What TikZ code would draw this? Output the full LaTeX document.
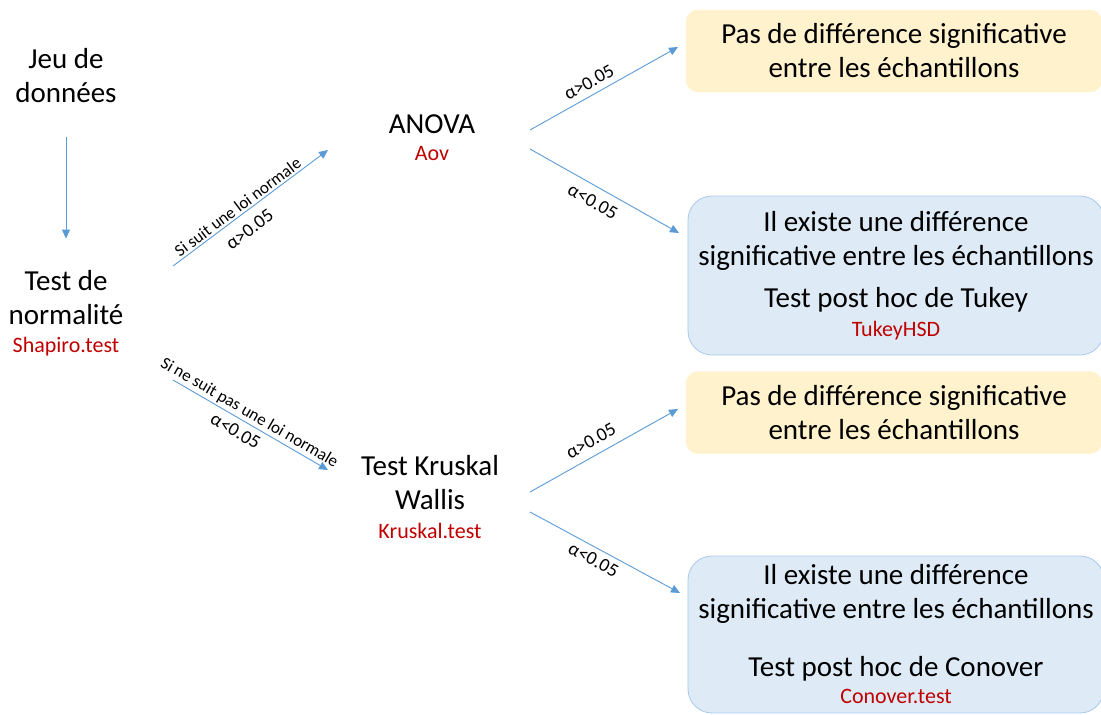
\documentclass[tikz,border=0pt]{standalone}
\usepackage{fontspec}
\setmainfont{Carlito}
\usetikzlibrary{arrows.meta}
\definecolor{arrblue}{HTML}{5B9BD5}
\definecolor{codered}{HTML}{C00000}
\definecolor{yfill}{HTML}{FFF2CC}
\definecolor{bfill}{HTML}{DEEBF7}
\definecolor{bdraw}{HTML}{A9C9EA}
\tikzset{
  bigtxt/.style={font=\fontsize{29}{34}\selectfont, align=center, inner sep=0pt},
  codetxt/.style={font=\fontsize{22}{26}\selectfont, text=codered, inner sep=0pt},
  arr/.style={draw=arrblue, line width=0.9pt, -{Triangle[length=9pt,width=8pt]}},
  lblsmall/.style={font=\fontsize{17}{20}\selectfont, sloped},
  lblalpha/.style={font=\fontsize{19}{22}\selectfont, sloped},
  ybox/.style={bigtxt, fill=yfill, draw=yfill, rounded corners=12pt, minimum width=416pt, minimum height=82pt},
  bbox/.style={bigtxt, fill=bfill, draw=bdraw, line width=0.8pt, rounded corners=24pt, minimum width=416pt},
}
\newcommand{\redcode}[1]{{\fontsize{22}{26}\selectfont\color{codered}#1}}
\begin{document}
\begin{tikzpicture}[x=1pt,y=-1pt]
\useasboundingbox (0,0) rectangle (1101,715);

% left column
\node[bigtxt] (jeu) at (66,76) {Jeu de\\données};
\node[bigtxt] (norm) at (66,298) {Test de\\normalité};
\node[codetxt] (shap) at (66,347) {Shapiro.test};

% middle
\node[bigtxt] (anova) at (432,124) {ANOVA};
\node[codetxt] (aov) at (432,154) {Aov};
\node[bigtxt] (kw) at (430,483) {Test Kruskal\\Wallis};
\node[codetxt] (ks) at (430,531) {Kruskal.test};

% result boxes
\node[ybox] (y1) at (894,51) {Pas de différence significative\\entre les échantillons};
\node[bbox, minimum height=159pt] (b1) at (896,275.5) {Il existe une différence\\significative entre les échantillons\\[8pt]Test post hoc de Tukey\\[-5pt]\redcode{TukeyHSD}};
\node[ybox] (y2) at (894,412.5) {Pas de différence significative\\entre les échantillons};
\node[bbox, minimum height=157pt] (b2) at (896,634.5) {Il existe une différence\\significative entre les échantillons\\[24pt]Test post hoc de Conover\\[-7pt]\redcode{Conover.test}};

% connector end points
\coordinate (n-up) at (173,266);
\coordinate (n-dn) at (173,380);
\coordinate (a-in) at (328,150);
\coordinate (k-in) at (328,470);
\coordinate (a-up) at (530,130);
\coordinate (a-dn) at (530,149);
\coordinate (k-up) at (530,492);
\coordinate (k-dn) at (530,512);
\coordinate (y1-in) at (678,47);
\coordinate (b1-in) at (679,233);
\coordinate (y2-in) at (678,409);
\coordinate (b2-in) at (680,593);

% connectors
\draw[arr, shorten <=34pt, shorten >=32pt] (jeu) -- (norm);
\draw[arr] (n-up) -- node[lblsmall, pos=0.45, above, inner sep=2pt] {Si suit une loi normale}
                     node[lblalpha, pos=0.43, below, inner sep=10pt] {α>0.05} (a-in);
\draw[arr] (n-dn) -- node[lblsmall, pos=0.46, above, inner sep=2pt] {Si ne suit pas une loi normale}
                     node[lblalpha, pos=0.445, below, inner sep=6pt] {α<0.05} (k-in);
\draw[arr] (a-up) -- node[lblalpha, pos=0.44, above, inner sep=6pt] {α>0.05} (y1-in);
\draw[arr] (a-dn) -- node[lblalpha, pos=0.47, below, inner sep=8pt] {α<0.05} (b1-in);
\draw[arr] (k-up) -- node[lblalpha, pos=0.46, above, inner sep=8pt] {α>0.05} (y2-in);
\draw[arr] (k-dn) -- node[lblalpha, pos=0.46, below, inner sep=5pt] {α<0.05} (b2-in);
\end{tikzpicture}
\end{document}
